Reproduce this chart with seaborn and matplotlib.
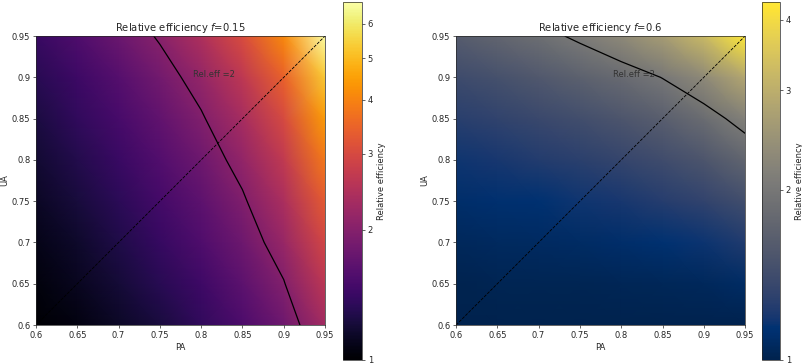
# Relative efficiency maps (PA vs UA) for two class fractions

import numpy as np
import matplotlib
matplotlib.use("Agg")
import matplotlib.pyplot as plt
import seaborn as sns
from matplotlib.colors import LogNorm
from matplotlib.ticker import NullLocator

sns.set_style("ticks")

# 1. Data (rows = UA, columns = PA)
pa = np.array([0.6, 0.65, 0.7, 0.75, 0.8, 0.85, 0.9, 0.95])
ua = np.array([0.6, 0.65, 0.7, 0.75, 0.8, 0.85, 0.9, 0.95])

re_f015 = np.array([
    [1.00, 1.06, 1.14, 1.23, 1.36, 1.53, 1.80, 2.31],
    [1.04, 1.11, 1.20, 1.31, 1.45, 1.66, 1.98, 2.60],
    [1.08, 1.16, 1.26, 1.39, 1.56, 1.80, 2.18, 2.93],
    [1.13, 1.22, 1.33, 1.48, 1.67, 1.95, 2.40, 3.32],
    [1.18, 1.28, 1.41, 1.58, 1.80, 2.13, 2.67, 3.80],
    [1.24, 1.36, 1.50, 1.69, 1.96, 2.35, 3.00, 4.42],
    [1.31, 1.44, 1.61, 1.84, 2.15, 2.63, 3.44, 5.29],
    [1.40, 1.56, 1.77, 2.04, 2.43, 3.04, 4.12, 6.74],
])

re_f06 = np.array([
    [1.00, 1.00, 1.00, 1.00, 1.00, 1.00, 1.00, 1.00],
    [1.01, 1.02, 1.02, 1.02, 1.03, 1.04, 1.05, 1.08],
    [1.05, 1.06, 1.07, 1.08, 1.10, 1.13, 1.16, 1.23],
    [1.10, 1.12, 1.14, 1.17, 1.20, 1.25, 1.32, 1.44],
    [1.17, 1.20, 1.24, 1.28, 1.34, 1.42, 1.53, 1.73],
    [1.27, 1.31, 1.37, 1.44, 1.53, 1.65, 1.83, 2.15],
    [1.40, 1.47, 1.56, 1.67, 1.81, 2.01, 2.30, 2.84],
    [1.62, 1.74, 1.88, 2.07, 2.31, 2.66, 3.22, 4.30],
])

f_values = ["0.15", "0.6"]
tables = [re_f015, re_f06]
cmaps = [sns.color_palette("inferno", as_cmap=True),
         sns.color_palette("cividis", as_cmap=True)]
cbar_ticks = [[1, 2, 3, 4, 5, 6], [1, 2, 3, 4]]
level = 2

# 2. Figure
fig = plt.figure(figsize=(8.03, 3.64), dpi=100)
ax_pos = [[0.0448, 0.107, 0.360, 0.794], [0.5679, 0.107, 0.360, 0.794]]
cb_pos = [[0.4271, 0.011, 0.0237, 0.9835], [0.9489, 0.011, 0.0224, 0.9835]]

tick_vals = [0.6, 0.65, 0.7, 0.75, 0.8, 0.85, 0.9, 0.95]
tick_labs = [f"{t:g}" for t in tick_vals]

for i in range(2):
    ax = fig.add_axes(ax_pos[i])
    cax = fig.add_axes(cb_pos[i])
    z = tables[i]
    norm = LogNorm(vmin=z.min(), vmax=z.max())
    mesh = ax.pcolormesh(pa, ua, z, shading="gouraud", cmap=cmaps[i], norm=norm)
    ax.contour(pa, ua, z, levels=[level], colors="k", linewidths=0.9)
    ax.plot(pa[[0, -1]], ua[[0, -1]], color="k", ls="--", lw=0.6)
    ax.text(0.79, 0.9, "Rel.eff =2", fontsize=6, color="0.2")

    ax.set_xlim(pa[0], pa[-1])
    ax.set_ylim(ua[0], ua[-1])
    ax.set_xticks(tick_vals)
    ax.set_xticklabels(tick_labs)
    ax.set_yticks(tick_vals)
    ax.set_yticklabels(tick_labs)
    ax.tick_params(labelsize=6, length=2.1, width=0.5, pad=2)
    for s in ax.spines.values():
        s.set_linewidth(0.5)
    ax.set_xlabel("PA", fontsize=6, labelpad=2)
    ax.set_ylabel("UA", fontsize=6, labelpad=2)
    ax.set_title(f"Relative efficiency $f$={f_values[i]}", fontsize=7.2, pad=3.5)

    cb = fig.colorbar(mesh, cax=cax)
    cb.set_ticks(cbar_ticks[i])
    cb.set_ticklabels([str(t) for t in cbar_ticks[i]])
    cb.ax.yaxis.set_minor_locator(NullLocator())
    cb.ax.tick_params(labelsize=6, length=2.1, width=0.5, pad=2)
    cb.outline.set_linewidth(0.5)
    cb.set_label("Relative efficiency", fontsize=6, labelpad=3)

fig.savefig("out.png", dpi=100)
